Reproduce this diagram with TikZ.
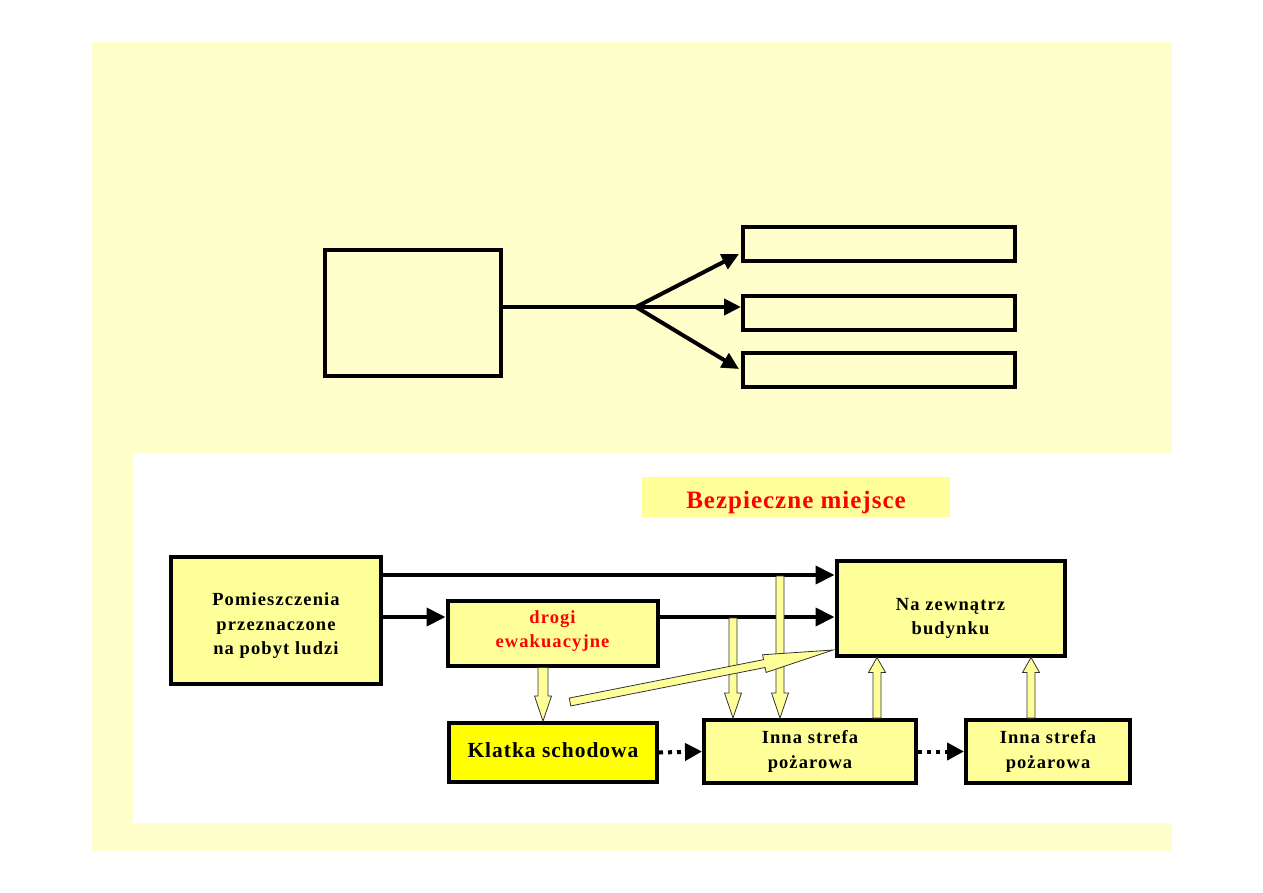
\documentclass[tikz,border=0pt]{standalone}
\usepackage{fontspec}
\setmainfont{Liberation Serif}[LetterSpace=6]
\newfontfamily\widefont{Liberation Serif}[LetterSpace=4]
\newfontfamily\klatkafont{Liberation Serif}[LetterSpace=4.5]
\usetikzlibrary{arrows.meta,calc}
\definecolor{bgyellow}{HTML}{FFFFCC}
\definecolor{boxyellow}{HTML}{FFFF99}
\definecolor{strongyellow}{HTML}{FFFF00}
\definecolor{redtext}{HTML}{FF0000}
\newcommand\shiftbox[2]{\raisebox{#1}[\height][\depth]{#2}}
\tikzset{
  box/.style={draw=black, line width=4pt, inner sep=0pt, align=center, font=\bfseries\fontsize{18.5}{24.5}\selectfont},
  emptybox/.style={draw=black, line width=4pt, inner sep=0pt},
  flow/.style={draw=black, line width=4pt, -{Triangle[length=19pt,width=18pt]}},
  topflow/.style={draw=black, line width=4pt, -{Triangle[length=17pt,width=16pt]}},
  dotflow/.style={draw=black, line width=4pt, dash pattern=on 4pt off 5pt, -{Triangle[length=17pt,width=17pt]}},
  blockstyle/.style={fill=boxyellow, draw=black!80, line width=0.8pt, line join=miter},
}
\newcommand\blockarrow[5]{%
  \coordinate (ba-s) at #1; \coordinate (ba-e) at #2;
  \coordinate (ba-h) at ($(ba-e)!#5!(ba-s)$);
  \filldraw[blockstyle] ($(ba-s)!#3!90:(ba-e)$) -- ($(ba-h)!#3!90:(ba-e)$) -- ($(ba-h)!#4!90:(ba-e)$) -- (ba-e) -- ($(ba-h)!#4!-90:(ba-e)$) -- ($(ba-h)!#3!-90:(ba-e)$) -- ($(ba-s)!#3!-90:(ba-e)$) -- cycle;}
\begin{document}
\begin{tikzpicture}[x=1pt,y=-1pt]
\useasboundingbox (0,0) rectangle (1263,893);
\fill[white] (0,0) rectangle (1263,893);
\fill[bgyellow] (92,42) rectangle (1172,851);
\fill[white] (133,453) rectangle (1172,823);

% top section
\node[emptybox, minimum width=176pt, minimum height=126pt] (src) at (413,313) {};
\node[emptybox, minimum width=272pt, minimum height=34pt] (t1) at (879,244) {};
\node[emptybox, minimum width=272pt, minimum height=34pt] (t2) at (879,313) {};
\node[emptybox, minimum width=272pt, minimum height=34pt] (t3) at (879,370) {};
\coordinate (fork) at (636,307);
\draw[line width=4pt] (src.east |- fork) -- (fork);
\draw[topflow] (fork) -- ($(t1.south west)+(-2,-9)$);
\draw[topflow] (fork) -- (t2.west |- fork);
\draw[topflow] (fork) -- ($(t3.north west)+(-2,18)$);

% bottom section
\node[fill=boxyellow, minimum width=308pt, minimum height=40pt, inner sep=0pt, text=redtext, font=\widefont\bfseries\fontsize{25}{28}\selectfont] (safe) at (796,497) {\shiftbox{-5pt}{Bezpieczne miejsce}};

\node[box, fill=boxyellow, minimum width=210pt, minimum height=127pt] (pom) at (276,620.5) {\shiftbox{-5pt}{\begin{tabular}{@{}c@{}}Pomieszczenia\\przeznaczone\\na pobyt ludzi\end{tabular}}};
\node[box, fill=boxyellow, minimum width=210pt, minimum height=65pt, text=redtext, font=\bfseries\fontsize{18.5}{24}\selectfont] (drogi) at (552.5,633) {\shiftbox{2.5pt}{\begin{tabular}{@{}c@{}}drogi\\ewakuacyjne\end{tabular}}};
\node[box, fill=strongyellow, minimum width=208pt, minimum height=59pt, font=\klatkafont\bfseries\fontsize{21.5}{24}\selectfont] (klatka) at (553,752.5) {\shiftbox{2pt}{Klatka schodowa}};
\node[box, fill=boxyellow, minimum width=228pt, minimum height=95pt, font=\bfseries\fontsize{18.5}{24}\selectfont] (naz) at (950.5,608) {\shiftbox{-9.5pt}{\begin{tabular}{@{}c@{}}Na zewnątrz\\budynku\end{tabular}}};
\node[box, fill=boxyellow, minimum width=212pt, minimum height=63pt] (inna1) at (810,751.5) {Inna strefa\\pożarowa};
\node[box, fill=boxyellow, minimum width=164pt, minimum height=63pt] (inna2) at (1048,751.5) {Inna strefa\\pożarowa};

\draw[flow] (pom.east |- 0,575) -- (naz.west |- 0,575);
\draw[flow] (pom.east |- 0,617) -- (drogi.west |- 0,617);
\draw[flow] (drogi.east |- 0,617) -- (naz.west |- 0,617);

\draw[dotflow] (klatka.east) -- (inna1.west);
\draw[dotflow] (inna1.east) -- (inna2.west);

% block arrows
\coordinate (v1s) at (733,618);
\coordinate (v2s) at (780,576);
\coordinate (diagS) at (570,702);
\coordinate (diagE) at ($(naz.south west)+(-1.5,-7.5)$);
\blockarrow{(drogi.south -| 543,0)}{(klatka.north -| 543,0)}{5pt}{8.5pt}{25pt}
\blockarrow{(v1s)}{(v1s |- inna1.north)}{4pt}{8.5pt}{25pt}
\blockarrow{(v2s)}{(v2s |- inna1.north)}{4pt}{8.5pt}{25pt}
\blockarrow{(diagS)}{(diagE)}{4pt}{9pt}{70pt}
\blockarrow{(inna1.north -| 877,0)}{(naz.south -| 877,0)}{4pt}{8.5pt}{15pt}
\blockarrow{(inna2.north -| 1031,0)}{(naz.south -| 1031,0)}{4pt}{8.5pt}{15pt}
\end{tikzpicture}
\end{document}
